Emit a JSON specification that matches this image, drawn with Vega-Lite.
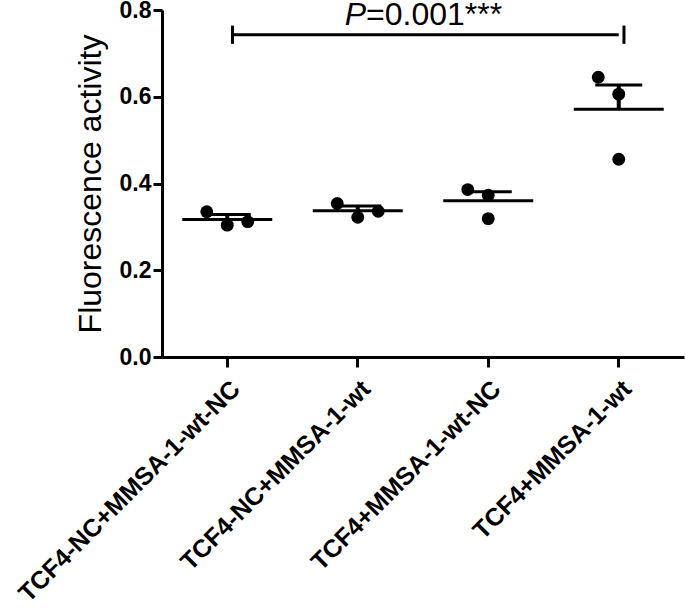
{
  "$schema": "https://vega.github.io/schema/vega-lite/v6.json",
  "width": 522,
  "height": 347,
  "autosize": {"type": "none"},
  "padding": {"left": 162, "top": 10, "right": 1, "bottom": 256},
  "background": "white",
  "config": {
    "view": {"stroke": null},
    "font": "Liberation Sans",
    "axisX": {
      "domainWidth": 3, "domainColor": "black", "tickColor": "black", "tickWidth": 3, "tickSize": 10,
      "labelAngle": -45, "labelFont": "Liberation Sans", "labelFontWeight": "bold", "labelFontSize": 25,
      "labelColor": "black", "labelLimit": 0, "labelPadding": 9, "grid": false
    },
    "axisY": {
      "domainWidth": 3, "domainColor": "black", "tickColor": "black", "tickWidth": 3, "tickSize": 9,
      "labelFont": "Liberation Sans", "labelFontWeight": "bold", "labelFontSize": 23, "labelColor": "black",
      "labelPadding": 2, "titleFont": "Liberation Sans", "titleFontSize": 32, "titleFontWeight": "normal",
      "titleColor": "black", "titlePadding": 12, "grid": false
    }
  },
  "datasets": {
    "points": [
      {"group": "TCF4-NC+MMSA-1-wt-NC", "rep": "L", "value": 0.335},
      {"group": "TCF4-NC+MMSA-1-wt-NC", "rep": "C", "value": 0.304},
      {"group": "TCF4-NC+MMSA-1-wt-NC", "rep": "R", "value": 0.312},
      {"group": "TCF4-NC+MMSA-1-wt", "rep": "L", "value": 0.354},
      {"group": "TCF4-NC+MMSA-1-wt", "rep": "C", "value": 0.322},
      {"group": "TCF4-NC+MMSA-1-wt", "rep": "R", "value": 0.336},
      {"group": "TCF4+MMSA-1-wt-NC", "rep": "L", "value": 0.386},
      {"group": "TCF4+MMSA-1-wt-NC", "rep": "C", "value": 0.373},
      {"group": "TCF4+MMSA-1-wt-NC", "rep": "C", "value": 0.319},
      {"group": "TCF4+MMSA-1-wt", "rep": "L", "value": 0.645},
      {"group": "TCF4+MMSA-1-wt", "rep": "C", "value": 0.606},
      {"group": "TCF4+MMSA-1-wt", "rep": "C", "value": 0.456}
    ],
    "summary": [
      {"group": "TCF4-NC+MMSA-1-wt-NC", "mean": 0.317, "upper": 0.3285},
      {"group": "TCF4-NC+MMSA-1-wt", "mean": 0.337, "upper": 0.348},
      {"group": "TCF4+MMSA-1-wt-NC", "mean": 0.360, "upper": 0.381},
      {"group": "TCF4+MMSA-1-wt", "mean": 0.571, "upper": 0.627}
    ],
    "bracket": [
      {"group": "TCF4-NC+MMSA-1-wt-NC", "group2": "TCF4+MMSA-1-wt", "y": 0.743}
    ],
    "caps": [
      {"group": "TCF4-NC+MMSA-1-wt-NC", "lo": 0.722, "hi": 0.764},
      {"group": "TCF4+MMSA-1-wt", "lo": 0.722, "hi": 0.764}
    ],
    "label": [
      {"group": "TCF4-NC+MMSA-1-wt", "y": 0.765, "p": "P", "rest": "=0.001***"}
    ]
  },
  "layer": [
    {
      "data": {"name": "summary"},
      "mark": {"type": "tick", "size": 90, "thickness": 3, "color": "black", "opacity": 1},
      "encoding": {
        "x": {"field": "group", "type": "nominal", "title": null,
              "scale": {"type": "band", "domain": ["TCF4-NC+MMSA-1-wt-NC", "TCF4-NC+MMSA-1-wt", "TCF4+MMSA-1-wt-NC", "TCF4+MMSA-1-wt"], "paddingInner": 0, "paddingOuter": 0}},
        "y": {"field": "mean", "type": "quantitative", "title": "Fluorescence activity", "scale": {"domain": [0, 0.8]},
              "axis": {"values": [0, 0.2, 0.4, 0.6, 0.8], "format": ".1f"}}
      }
    },
    {
      "data": {"name": "summary"},
      "mark": {"type": "tick", "size": 47, "thickness": 3, "color": "black", "opacity": 1},
      "encoding": {
        "x": {"field": "group", "type": "nominal", "title": null},
        "y": {"field": "upper", "type": "quantitative", "title": "Fluorescence activity"}
      }
    },
    {
      "data": {"name": "summary"},
      "mark": {"type": "rule", "strokeWidth": 4, "color": "black", "opacity": 1},
      "encoding": {
        "x": {"field": "group", "type": "nominal", "title": null},
        "y": {"field": "mean", "type": "quantitative", "title": "Fluorescence activity"},
        "y2": {"field": "upper"}
      }
    },
    {
      "data": {"name": "points"},
      "mark": {"type": "circle", "size": 165, "color": "black", "opacity": 1},
      "encoding": {
        "x": {"field": "group", "type": "nominal", "title": null},
        "xOffset": {"field": "rep", "type": "nominal", "scale": {"type": "point", "domain": ["L", "C", "R"], "range": [44.75, 85.75], "padding": 0}},
        "y": {"field": "value", "type": "quantitative", "title": "Fluorescence activity"}
      }
    },
    {
      "data": {"name": "bracket"},
      "mark": {"type": "rule", "strokeWidth": 3, "color": "black"},
      "encoding": {
        "x": {"field": "group", "type": "nominal", "title": null, "bandPosition": 0.54},
        "x2": {"field": "group2"},
        "y": {"field": "y", "type": "quantitative", "title": "Fluorescence activity"}
      }
    },
    {
      "data": {"name": "caps"},
      "mark": {"type": "rule", "strokeWidth": 3, "color": "black"},
      "encoding": {
        "x": {"field": "group", "type": "nominal", "title": null, "bandPosition": 0.54},
        "y": {"field": "lo", "type": "quantitative", "title": "Fluorescence activity"},
        "y2": {"field": "hi"}
      }
    },
    {
      "data": {"name": "label"},
      "mark": {"type": "text", "fontSize": 32, "fontStyle": "italic", "font": "Liberation Sans", "align": "right", "baseline": "alphabetic", "dx": -57, "color": "black"},
      "encoding": {
        "x": {"field": "group", "type": "nominal", "title": null, "bandPosition": 1},
        "y": {"field": "y", "type": "quantitative", "title": "Fluorescence activity"},
        "text": {"field": "p"}
      }
    },
    {
      "data": {"name": "label"},
      "mark": {"type": "text", "fontSize": 32, "font": "Liberation Sans", "align": "left", "baseline": "alphabetic", "dx": -57, "color": "black"},
      "encoding": {
        "x": {"field": "group", "type": "nominal", "title": null, "bandPosition": 1},
        "y": {"field": "y", "type": "quantitative", "title": "Fluorescence activity"},
        "text": {"field": "rest"}
      }
    }
  ]
}
